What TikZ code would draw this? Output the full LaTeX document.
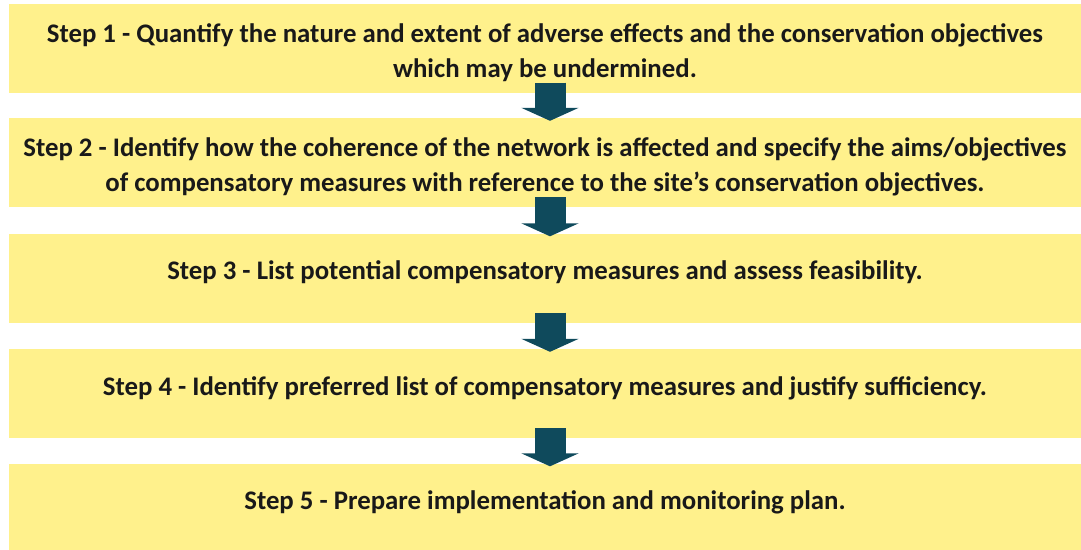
\documentclass[tikz,border=0pt]{standalone}
\usepackage{fontspec}
\setmainfont{Carlito}
\usetikzlibrary{arrows.meta}
\definecolor{stepyellow}{HTML}{FFF18C}
\definecolor{steparrow}{HTML}{0F4A5C}
\newcommand{\steplift}{\rule{0pt}{28pt}}
\begin{document}
\begin{tikzpicture}[x=1pt,y=1pt,font=\bfseries\fontsize{26.8}{35}\selectfont,
  stepbox/.style={fill=stepyellow,draw=none,minimum width=1072pt,minimum height=89pt,
    align=center,inner sep=0pt,text=black!90},
  oneline/.style={stepbox,text height=19pt,text depth=16pt},
  flow/.style={draw=steparrow,line width=31pt,-{Triangle[width=57pt,length=13pt]}}]
  \useasboundingbox (0,0) rectangle (1081,-549);
  \node[stepbox] (s1) at (545,-48) {\steplift Step 1 - Quantify the nature and extent of adverse effects and the conservation objectives\\ which may be undermined.};
  \node[stepbox] (s2) at (545,-162.5) {\steplift Step 2 - Identify how the coherence of the network is affected and specify the aims/objectives\\ of compensatory measures with reference to the site’s conservation objectives.};
  \node[oneline] (s3) at (545,-278) {Step 3 - List potential compensatory measures and assess feasibility.};
  \node[oneline] (s4) at (545,-393.5) {Step 4 - Identify preferred list of compensatory measures and justify sufficiency.};
  \node[oneline] (s5) at (545,-508) {Step 5 - Prepare implementation and monitoring plan.};
  \foreach \a/\b in {s1/s2,s2/s3,s3/s4,s4/s5}
    \draw[flow] ([xshift=5pt,yshift=10pt]\a.south) -- ([xshift=5pt,yshift=-3pt]\b.north);
\end{tikzpicture}
\end{document}
